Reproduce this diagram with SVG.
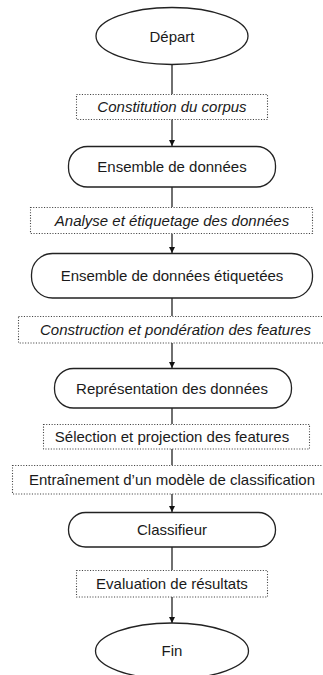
<svg xmlns="http://www.w3.org/2000/svg" width="323" height="675" viewBox="0 0 323 675">
<style>
.term{fill:#fff;stroke:#222;stroke-width:1.3}
.proc{fill:#fff;stroke:#222;stroke-width:1.3}
.step{fill:#fff;stroke:#444;stroke-width:1.1;stroke-dasharray:1.1 1.6}
.t{font-family:"Liberation Sans",Arial,sans-serif;font-size:15px;fill:#1a1a1a;text-anchor:middle}
.i{font-style:italic}
.c{stroke:#222;stroke-width:1.3;fill:none}
</style>
<defs>
<marker id="ah2" viewBox="0 0 6 6" refX="6" refY="3" markerWidth="6" markerHeight="6" markerUnits="userSpaceOnUse" orient="auto">
<path d="M0,0 L6,3 L0,6 z" fill="#111"/>
</marker>
</defs>
<rect width="323" height="675" fill="#fff"/>
<g id="connectors">
<line class="c" x1="172" y1="65" x2="172" y2="94"/>
<line class="c" x1="172" y1="119" x2="172" y2="146" marker-end="url(#ah2)"/>
<line class="c" x1="172" y1="187" x2="172" y2="207"/>
<line class="c" x1="172" y1="234" x2="172" y2="253" marker-end="url(#ah2)"/>
<line class="c" x1="172" y1="298" x2="172" y2="316"/>
<line class="c" x1="172" y1="343" x2="172" y2="368" marker-end="url(#ah2)"/>
<line class="c" x1="172" y1="408" x2="172" y2="424"/>
<line class="c" x1="172" y1="449" x2="172" y2="465"/>
<line class="c" x1="172" y1="494" x2="172" y2="512" marker-end="url(#ah2)"/>
<line class="c" x1="172" y1="547" x2="172" y2="570"/>
<line class="c" x1="172" y1="597" x2="172" y2="623" marker-end="url(#ah2)"/>
</g>
<g id="depart">
<ellipse class="term" cx="172" cy="36" rx="76" ry="28.5"/>
<text class="t" x="172" y="42">Départ</text>
</g>
<g id="constitution">
<rect class="step" x="76.5" y="94.5" width="191" height="25"/>
<text class="t i" x="172" y="112">Constitution du corpus</text>
</g>
<g id="ensemble">
<rect class="proc" x="68.5" y="146.5" width="207" height="40.5" rx="19"/>
<text class="t" x="172" y="172">Ensemble de données</text>
</g>
<g id="analyse">
<rect class="step" x="30.5" y="207.5" width="282" height="26"/>
<text class="t i" x="172" y="226">Analyse et étiquetage des données</text>
</g>
<g id="ensemble-etiq">
<rect class="proc" x="31.5" y="253.5" width="281" height="44.5" rx="21"/>
<text class="t" x="172" y="281">Ensemble de données étiquetées</text>
</g>
<g id="construction">
<rect class="step" x="18.5" y="316.5" width="320" height="26.5"/>
<text class="t i" x="175.5" y="335">Construction et pondération des features</text>
</g>
<g id="representation">
<rect class="proc" x="54.5" y="368.5" width="237" height="39.5" rx="19"/>
<text class="t" x="172" y="393.5">Représentation des données</text>
</g>
<g id="selection">
<rect class="step" x="43.5" y="424.5" width="266" height="24.5"/>
<text class="t" x="172" y="442">Sélection et projection des features</text>
</g>
<g id="entrainement">
<rect class="step" x="12.5" y="465.5" width="320" height="28.5"/>
<text class="t" x="172" y="485">Entraînement d’un modèle de classification</text>
</g>
<g id="classifieur">
<rect class="proc" x="68.5" y="512.5" width="207" height="34.5" rx="17"/>
<text class="t" x="172" y="535">Classifieur</text>
</g>
<g id="evaluation">
<rect class="step" x="76.5" y="570.5" width="191" height="26.5"/>
<text class="t" x="172" y="589">Evaluation de résultats</text>
</g>
<g id="fin">
<ellipse class="term" cx="172" cy="651" rx="76.5" ry="28"/>
<text class="t" x="172" y="656">Fin</text>
</g>
</svg>
